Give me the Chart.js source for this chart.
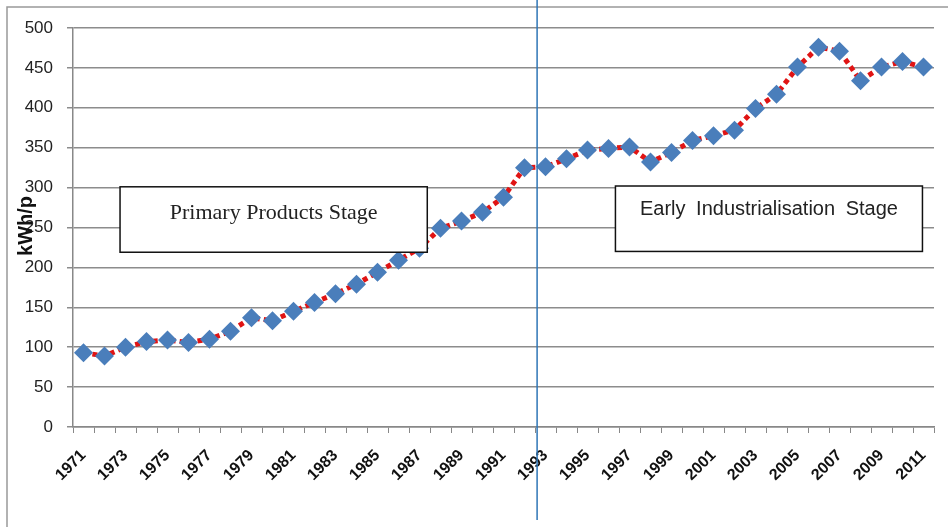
<!DOCTYPE html>
<html>
<head>
<meta charset="utf-8">
<script src="https://cdn.jsdelivr.net/npm/chart.js@4"></script>
<style>
  html, body { margin: 0; padding: 0; background: #fff; }
  #wrap { width: 948px; height: 527px; position: relative; }
</style>
</head>
<body>
<div id="wrap"><canvas id="chart"></canvas></div>
<script>
// years on the x axis
const years = ['1971', '1972', '1973', '1974', '1975', '1976', '1977', '1978', '1979', '1980',
  '1981', '1982', '1983', '1984', '1985', '1986', '1987', '1988', '1989', '1990',
  '1991', '1992', '1993', '1994', '1995', '1996', '1997', '1998', '1999', '2000',
  '2001', '2002', '2003', '2004', '2005', '2006', '2007', '2008', '2009', '2010', '2011'];

// electricity use, kWh per person
const kwhPerPerson = [93, 89, 100, 107, 109, 106, 110, 120, 137, 133,
  145, 156, 167, 179, 194, 209, 224, 249, 258, 269,
  288, 325, 326, 336, 347, 349, 351, 332, 344, 359,
  365, 372, 399, 417, 451, 476, 471, 434, 451, 458, 451];

const yTicks = [0, 50, 100, 150, 200, 250, 300, 350, 400, 450, 500];

// stage labels and where they sit (category index / axis value)
const stageBoxes = [
  { text: 'Primary Products Stage', x0: 1.74, x1: 16.37, y0: 301, y1: 219, font: '22px "Liberation Serif"', ty: 26, ws: '0px' },
  { text: 'Early Industrialisation Stage', x0: 25.33, x1: 39.95, y0: 302, y1: 220, font: '20px "Liberation Sans"', ty: 23, ws: '5px' }
];
const stageSplit = 21.6; // between 1992 and 1993

const extras = {
  id: 'extras',
  afterDatasetsDraw(chart) {
    const ctx = chart.ctx;
    const x = chart.scales.x, y = chart.scales.y;
    ctx.save();
    stageBoxes.forEach(b => {
      const l = x.getPixelForValue(b.x0), r = x.getPixelForValue(b.x1);
      const t = y.getPixelForValue(b.y0), btm = y.getPixelForValue(b.y1);
      ctx.fillStyle = '#fff';
      ctx.fillRect(l, t, r - l, btm - t);
      ctx.strokeStyle = '#111';
      ctx.lineWidth = 1.5;
      ctx.strokeRect(l, t, r - l, btm - t);
      ctx.fillStyle = '#222';
      ctx.font = b.font;
      ctx.wordSpacing = b.ws;
      ctx.textAlign = 'center';
      ctx.textBaseline = 'middle';
      ctx.fillText(b.text, (l + r) / 2, t + b.ty);
    });
    ctx.restore();
  },
  afterDraw(chart) {
    const ctx = chart.ctx;
    const x = chart.scales.x;
    ctx.save();
    // outer frame
    ctx.strokeStyle = '#999';
    ctx.lineWidth = 1.5;
    ctx.beginPath();
    ctx.moveTo(7, 530);
    ctx.lineTo(7, 7);
    ctx.lineTo(950, 7);
    ctx.stroke();
    // stage divider
    const vx = x.getPixelForValue(stageSplit);
    ctx.strokeStyle = '#2E75B6';
    ctx.lineWidth = 1.5;
    ctx.beginPath();
    ctx.moveTo(vx, 0);
    ctx.lineTo(vx, 520);
    ctx.stroke();
    // y axis title, sits over the tick labels like the original
    ctx.translate(26, 226);
    ctx.rotate(-Math.PI / 2);
    ctx.fillStyle = '#111';
    ctx.font = 'bold 20px "Liberation Sans"';
    ctx.textAlign = 'center';
    ctx.textBaseline = 'middle';
    ctx.fillText('kWh/p', 0, 0);
    ctx.restore();
  }
};

new Chart('chart', {
  type: 'line',
  data: {
    labels: years,
    datasets: [{
      label: 'kWh/p',
      data: kwhPerPerson,
      borderColor: '#E01414',
      borderWidth: 5,
      borderDash: [5, 4],
      pointStyle: 'rectRot',
      pointRadius: 9.5,
      pointBackgroundColor: '#4A7EBB',
      pointBorderColor: '#4A7EBB',
      pointBorderWidth: 0,
      tension: 0
    }]
  },
  options: {
    responsive: true,
    maintainAspectRatio: false,
    animation: false,
    layout: { padding: { top: 28, left: 7, right: 14, bottom: 0 } },
    plugins: {
      legend: { display: false },
      tooltip: { enabled: false }
    },
    scales: {
      x: {
        offset: true,
        grid: { drawOnChartArea: false, offset: true, tickLength: 6, color: '#888', lineWidth: 1 },
        border: { color: '#888', width: 1.5 },
        ticks: {
          autoSkip: false,
          maxRotation: 45,
          minRotation: 45,
          padding: 13,
          color: '#111',
          font: { family: 'Liberation Sans', size: 16, weight: 'bold' },
          callback: function (v, i) { return i % 2 === 0 ? this.getLabelForValue(v) : ''; }
        },
        afterFit(scale) {
          scale.height = 100;
          scale.paddingRight = 0;
          scale.paddingLeft = 0;
        }
      },
      y: {
        min: 0,
        max: 500,
        afterBuildTicks(scale) { scale.ticks = yTicks.map(v => ({ value: v })); },
        grid: { color: '#8c8c8c', lineWidth: 1.5, tickLength: 6 },
        border: { color: '#888', width: 1.5 },
        ticks: {
          color: '#222',
          padding: 14,
          font: { family: 'Liberation Sans', size: 17 }
        },
        afterFit(scale) { scale.width = 66; }
      }
    }
  },
  plugins: [extras]
});
</script>
</body>
</html>
